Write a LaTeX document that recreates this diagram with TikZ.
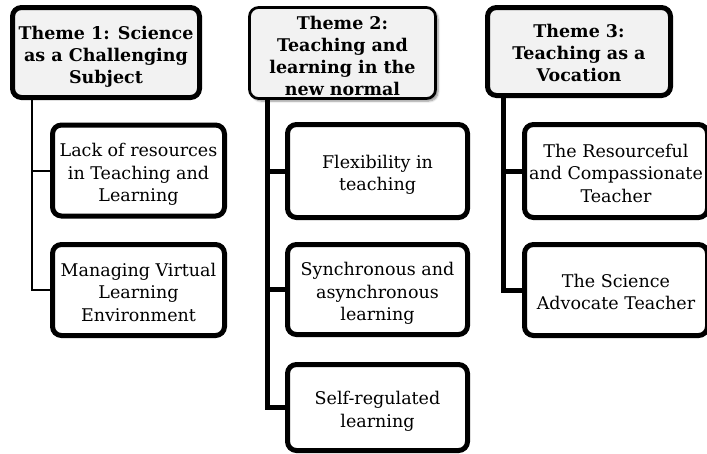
\documentclass[tikz,border=0pt]{standalone}
\usepackage{fontspec}
\setmainfont{DejaVu Serif}
\usetikzlibrary{shadows.blur}
\definecolor{themefill}{HTML}{F2F2F2}
\newcommand{\boxtext}[2][4pt]{\raisebox{-#1}[\height][\depth]{\begin{tabular}{@{}c@{}}#2\end{tabular}}}
\tikzset{
  every node/.style={inner sep=0pt, outer sep=0pt},
  txt/.style={font=\fontsize{17.5}{22.5}\selectfont, align=center, text=black},
  theme/.style={txt, font=\fontsize{17.5}{22}\selectfont\bfseries, draw=black, line width=5pt, rounded corners=9pt, fill=themefill},
  themetwo/.style={txt, font=\fontsize{17.5}{22}\selectfont\bfseries, draw=black, line width=2.7pt, rounded corners=9pt, fill=themefill,
     blur shadow={shadow xshift=2.5pt, shadow yshift=-2.5pt, shadow blur steps=6, shadow opacity=45}},
  sub/.style={txt, draw=black, line width=5pt, rounded corners=9pt, fill=white},
  thinlink/.style={draw=black, line width=2pt},
  thicklink/.style={draw=black, line width=5pt}
}
\begin{document}
\begin{tikzpicture}[x=1pt, y=-1pt]
\useasboundingbox (0,0) rectangle (707,453);
\clip (0,0) rectangle (707,453);
% Theme 1
\node[theme, minimum width=187pt, minimum height=90pt] (t1) at (106,52.5) {\boxtext[4.5pt]{Theme 1: Science\\as a Challenging\\Subject}};
\node[sub, minimum width=172pt, minimum height=91pt] (a1) at (138.5,170.5) {\boxtext{Lack of resources\\in Teaching and\\Learning}};
\node[sub, minimum width=172pt, minimum height=91pt] (a2) at (138.5,290) {\boxtext{Managing Virtual\\Learning\\Environment}};
% Theme 2
\node[themetwo, minimum width=186pt, minimum height=91pt] (t2) at (342.5,53) {\boxtext[5pt]{Theme 2:\\Teaching and\\learning in the\\new normal}};
\node[sub, minimum width=180pt, minimum height=93pt] (b1) at (377.5,171) {\boxtext{Flexibility in\\teaching}};
\node[sub, minimum width=180pt, minimum height=90pt] (b2) at (377.5,289.5) {\boxtext{Synchronous and\\asynchronous\\learning}};
\node[sub, minimum width=180pt, minimum height=86pt] (b3) at (377.5,407.5) {\boxtext{Self-regulated\\learning}};
% Theme 3
\node[theme, minimum width=183pt, minimum height=88pt] (t3) at (579,51.5) {\boxtext[3.5pt]{Theme 3:\\Teaching as a\\Vocation}};
\node[sub, minimum width=183pt, minimum height=93pt] (c1) at (616,171) {\boxtext{The Resourceful\\and Compassionate\\Teacher}};
\node[sub, minimum width=183pt, minimum height=91pt] (c2) at (616,290) {\boxtext{The Science\\Advocate Teacher}};
% connectors
\coordinate (s1) at ([xshift=19.5pt]t1.south west);
\coordinate (s2) at ([xshift=17.6pt]t2.south west);
\coordinate (s3) at ([xshift=15.5pt]t3.south west);
\draw[thinlink] (s1) |- (a1.west);
\draw[thinlink] (s1) |- (a2.west);
\draw[thicklink] (s2) |- (b1.west);
\draw[thicklink] (s2) |- (b2.west);
\draw[thicklink] (s2) |- (b3.west);
\draw[thicklink] (s3) |- (c1.west);
\draw[thicklink] (s3) |- (c2.west);
\end{tikzpicture}
\end{document}
